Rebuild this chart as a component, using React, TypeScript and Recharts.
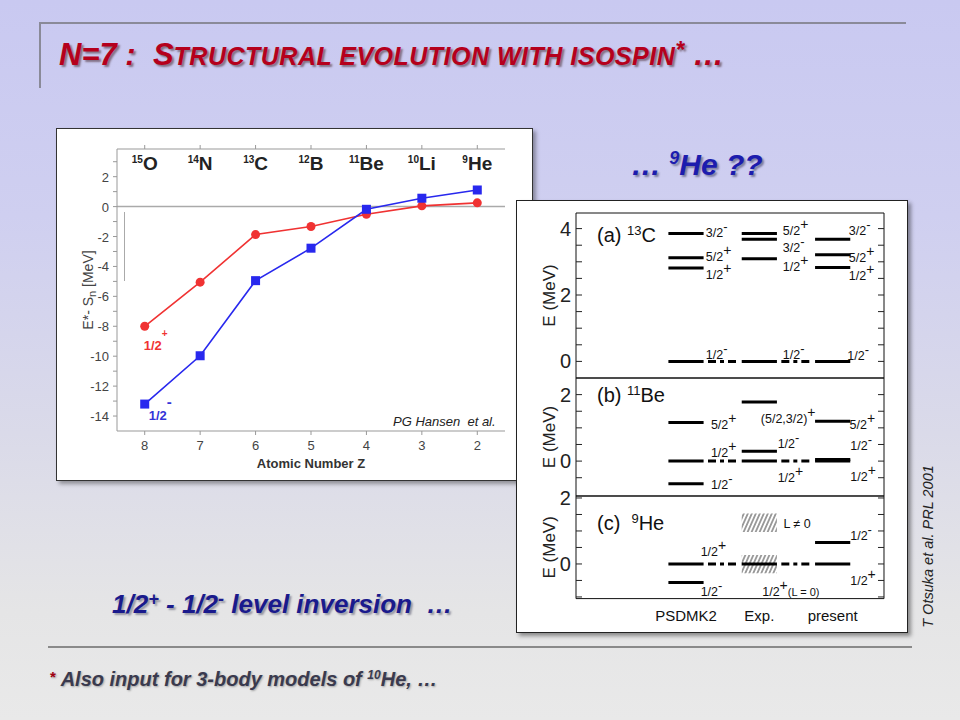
import React from 'react';
import {
  ComposedChart,
  Line,
  LineChart,
  ReferenceArea,
  ReferenceLine,
  Scatter,
  XAxis,
  YAxis,
} from 'recharts';

const FONT = '"Liberation Sans", Arial, Helvetica, sans-serif';
const RED = '#f03232';
const BLUE = '#2828ee';

// left plot: E* - Sn of the lowest 1/2+ and 1/2- states for N = 7
const atomicNumbers = [8, 7, 6, 5, 4, 3, 2];
const massNumbers = ['15', '14', '13', '12', '11', '10', '9'];
const elements = ['O', 'N', 'C', 'B', 'Be', 'Li', 'He'];
const halfPlusEnergy = [-8.0, -5.05, -1.87, -1.33, -0.51, 0.05, 0.25];
const halfMinusEnergy = [-13.2, -9.97, -4.95, -2.78, -0.18, 0.56, 1.11];
const energyTicks = [-14, -13, -12, -11, -10, -9, -8, -7, -6, -5, -4, -3, -2, -1, 0, 1, 2, 3];

// right plot: level schemes (Otsuka et al.)
const columns = ['PSDMK2', 'Exp.', 'present'];

const c13Levels = [
  { col: 0, e: 3.85 }, { col: 0, e: 3.12 }, { col: 0, e: 2.81 }, { col: 0, e: 0 },
  { col: 1, e: 3.85 }, { col: 1, e: 3.68 }, { col: 1, e: 3.09 }, { col: 1, e: 0 },
  { col: 2, e: 3.68 }, { col: 2, e: 3.21 }, { col: 2, e: 2.83 }, { col: 2, e: 0 },
];
const c13Labels = [
  { x: 1.77, y: 3.89, spin: '3/2', parity: '-' },
  { x: 1.77, y: 3.16, spin: '5/2', parity: '+' },
  { x: 1.77, y: 2.62, spin: '1/2', parity: '+' },
  { x: 1.77, y: 0.2, spin: '1/2', parity: '-' },
  { x: 2.82, y: 3.95, spin: '5/2', parity: '+' },
  { x: 2.82, y: 3.42, spin: '3/2', parity: '-' },
  { x: 2.82, y: 2.87, spin: '1/2', parity: '+' },
  { x: 2.82, y: 0.2, spin: '1/2', parity: '-' },
  { x: 3.72, y: 3.93, spin: '3/2', parity: '-' },
  { x: 3.72, y: 3.12, spin: '5/2', parity: '+' },
  { x: 3.72, y: 2.59, spin: '1/2', parity: '+' },
  { x: 3.7, y: 0.17, spin: '1/2', parity: '-' },
];

const be11Levels = [
  { col: 0, e: 1.16 }, { col: 0, e: 0 }, { col: 0, e: -0.68 },
  { col: 1, e: 1.78 }, { col: 1, e: 0.3 }, { col: 1, e: 0 },
  { col: 2, e: 1.2 }, { col: 2, e: 0.05 }, { col: 2, e: 0 },
];
const be11Labels = [
  { x: 1.84, y: 1.1, spin: '5/2', parity: '+' },
  { x: 1.84, y: 0.26, spin: '1/2', parity: '+' },
  { x: 1.84, y: -0.7, spin: '1/2', parity: '-' },
  { x: 2.52, y: 1.28, spin: '(5/2,3/2)', parity: '+' },
  { x: 2.75, y: 0.53, spin: '1/2', parity: '-' },
  { x: 2.75, y: -0.49, spin: '1/2', parity: '+' },
  { x: 3.73, y: 1.1, spin: '5/2', parity: '+' },
  { x: 3.74, y: 0.48, spin: '1/2', parity: '-' },
  { x: 3.74, y: -0.47, spin: '1/2', parity: '+' },
];

const he9Levels = [
  { col: 0, e: 0 }, { col: 0, e: -0.56 },
  { col: 1, e: 0 },
  { col: 2, e: 0.65 }, { col: 2, e: 0 },
];
const he9Bands = [
  { col: 1, from: -0.28, to: 0.27 },
  { col: 1, from: 0.97, to: 1.53 },
];
const he9Labels = [
  { x: 1.7, y: 0.37, spin: '1/2', parity: '+' },
  { x: 1.7, y: -0.83, spin: '1/2', parity: '-' },
  { x: 2.54, y: -0.83, spin: '1/2', parity: '+', note: '(L = 0)' },
  { x: 2.83, y: 1.23, spin: 'L \u2260 0' },
  { x: 3.74, y: 0.87, spin: '1/2', parity: '-' },
  { x: 3.74, y: -0.5, spin: '1/2', parity: '+' },
];

const X_MAX = 4.2;
const HALF = 0.24;
const GAP = 0.06;

const chartData = atomicNumbers.map((z, i) => ({
  z,
  plus: halfPlusEnergy[i],
  minus: halfMinusEnergy[i],
}));

const nuclideTick = (p: any) => {
  const i = atomicNumbers.indexOf(p.payload.value);
  return (
    <text x={p.x} y={p.y + 25} textAnchor="middle" fontWeight={700} fill="#222" fontFamily={FONT}>
      <tspan fontSize={10} dy={-7}>{massNumbers[i]}</tspan>
      <tspan fontSize={19} dy={7}>{elements[i]}</tspan>
    </text>
  );
};

const energyTick = (p: any) => {
  const v = p.payload.value;
  if (v % 2 !== 0) return <g />;
  return (
    <text x={p.x} y={p.y} dy={5} textAnchor="end" fontSize={13} fill="#444" fontFamily={FONT}>
      {v}
    </text>
  );
};

const energyAxisLabel = (p: any) => {
  const vb = p.viewBox || { x: 0, y: 21, width: 61, height: 282 };
  const cx = vb.x + 32;
  const cy = vb.y + vb.height / 2;
  return (
    <text transform={`rotate(-90 ${cx} ${cy})`} x={cx} y={cy} dy={5} textAnchor="middle" fontSize={14} fill="#444" fontFamily={FONT}>
      E*- S<tspan fontSize={11} dy={3}>n</tspan>
      <tspan dy={-3}>{'  [MeV]'}</tspan>
    </text>
  );
};

const seriesLabel = (text: string, sign: string, color: string, dx: number, dy: number) => (p: any) => {
  if (p.index !== 0) return <g />;
  return (
    <text x={p.x + dx} y={p.y + dy} fill={color} fontSize={13} fontWeight={700} fontFamily={FONT}>
      {text}
      <tspan dy={-13} fontSize={sign === '+' ? 10 : 15}>{sign}</tspan>
    </text>
  );
};

const squareDot = (p: any) => (
  <rect key={`sq-${p.index}`} x={p.cx - 4.5} y={p.cy - 4.5} width={9} height={9} fill={BLUE} />
);

function SeparationChart() {
  return (
    <LineChart width={477} height={353} data={chartData} margin={{ top: 0, right: 28, bottom: 0, left: 0 }}>
      <XAxis
        type="number"
        dataKey="z"
        domain={[1.5, 8.5]}
        reversed
        ticks={atomicNumbers}
        interval={0}
        height={50}
        tickSize={4}
        tickMargin={6}
        stroke="#999"
        tick={{ fill: '#444', fontSize: 13, fontFamily: FONT }}
        allowDataOverflow
        label={{ value: 'Atomic Number Z', position: 'insideBottom', offset: 13, fill: '#333', fontSize: 13, fontWeight: 700, fontFamily: FONT }}
      />
      <XAxis
        xAxisId="top"
        orientation="top"
        type="number"
        dataKey="z"
        domain={[1.5, 8.5]}
        reversed
        ticks={atomicNumbers}
        interval={0}
        height={21}
        tickSize={4}
        tickMargin={0}
        stroke="#999"
        tick={nuclideTick}
        allowDataOverflow
      />
      <YAxis
        type="number"
        domain={[-15, 3.85]}
        ticks={energyTicks}
        interval={0}
        width={61}
        tickSize={4}
        tickMargin={4}
        stroke="#999"
        tick={energyTick}
        allowDataOverflow
        label={energyAxisLabel}
      />
      <YAxis yAxisId="right" orientation="right" type="number" domain={[-15, 3.85]} width={0} tick={false} tickLine={false} stroke="#999" allowDataOverflow />
      <ReferenceLine y={0} stroke="#aaa" strokeWidth={1.5} />
      <Line
        dataKey="plus"
        stroke={RED}
        strokeWidth={1.6}
        dot={{ r: 4.5, fill: RED, stroke: RED, strokeWidth: 0 }}
        label={seriesLabel('1/2', '+', RED, -1, 24)}
        isAnimationActive={false}
      />
      <Line
        dataKey="minus"
        stroke={BLUE}
        strokeWidth={1.6}
        dot={squareDot}
        label={seriesLabel('1/2', '-', '#3434d8', 4, 16)}
        isAnimationActive={false}
      />
    </LineChart>
  );
}

const panelLeftTick = (p: any) => {
  const v = p.payload.value;
  return (
    <g>
      <line x1={p.x} x2={p.x + 6} y1={p.y} y2={p.y} stroke="#222" strokeWidth={1} />
      {v >= 0 && v % 2 === 0 ? (
        <text x={p.x - 5} y={p.y} dy={7} textAnchor="end" fontSize={20} fill="#222" fontFamily={FONT}>
          {v}
        </text>
      ) : null}
    </g>
  );
};

const panelRightTick = (p: any) => (
  <line x1={p.x - 6} x2={p.x} y1={p.y} y2={p.y} stroke="#222" strokeWidth={1} />
);

const panelAxisLabel = (p: any) => {
  const vb = p.viewBox || { x: 0, y: 12, width: 60, height: 100 };
  const cx = vb.x + 33;
  const cy = vb.y + vb.height / 2;
  return (
    <text transform={`rotate(-90 ${cx} ${cy})`} x={cx} y={cy} dy={6} textAnchor="middle" fontSize={17} fill="#222" fontFamily={FONT}>
      E (MeV)
    </text>
  );
};

const levelLabel = (p: any) => {
  const d = p.payload;
  return (
    <text x={p.cx} y={p.cy} dy={4.5} fontSize={12.5} fill="#111" fontFamily={FONT}>
      {d.spin}
      {d.parity ? (
        <tspan dy={-6} fontSize={d.parity === '+' ? 14 : 13}>{d.parity}</tspan>
      ) : null}
      {d.note ? <tspan dy={6} fontSize={11}>{d.note}</tspan> : null}
    </text>
  );
};

type Level = { col: number; e: number };
type Band = { col: number; from: number; to: number };

function LevelPanel({
  id,
  top,
  height,
  domain,
  ticks,
  levels,
  labels,
  bands = [],
  showColumns = false,
}: {
  id: string;
  top: number;
  height: number;
  domain: [number, number];
  ticks: number[];
  levels: Level[];
  labels: any[];
  bands?: Band[];
  showColumns?: boolean;
}) {
  const hatchId = `hatch-${id}`;
  return (
    <div style={{ position: 'absolute', left: 516, top }}>
      <ComposedChart width={392} height={height} margin={{ top: 12, right: 0, bottom: showColumns ? 0 : 4, left: 0 }}>
        <defs>
          <pattern id={hatchId} width={4} height={12} patternUnits="userSpaceOnUse" patternTransform="skewX(-24)">
            <line x1={1} y1={0} x2={1} y2={12} stroke="#333" strokeWidth={1} />
          </pattern>
        </defs>
        <XAxis
          type="number"
          dataKey="x"
          domain={[0, X_MAX]}
          ticks={[1.5, 2.5, 3.5]}
          interval={0}
          hide={!showColumns}
          height={32}
          tickSize={0}
          tickMargin={12}
          axisLine={false}
          tickLine={false}
          tick={{ fill: '#111', fontSize: 15, fontFamily: FONT }}
          tickFormatter={(v: number) => columns[Math.round(v - 1.5)]}
          allowDataOverflow
        />
        <YAxis
          type="number"
          dataKey="y"
          domain={domain}
          ticks={ticks}
          interval={0}
          width={60}
          tickSize={0}
          tickMargin={0}
          axisLine={false}
          tickLine={false}
          tick={panelLeftTick}
          label={panelAxisLabel}
          allowDataOverflow
        />
        <YAxis
          yAxisId="r"
          orientation="right"
          type="number"
          domain={domain}
          ticks={ticks}
          interval={0}
          width={24}
          tickSize={0}
          tickMargin={0}
          axisLine={false}
          tickLine={false}
          tick={panelRightTick}
          allowDataOverflow
        />
        <ReferenceArea x1={0} x2={X_MAX} y1={domain[0]} y2={domain[1]} fill="none" stroke="#111" strokeWidth={1} fillOpacity={0} />
        {bands.map((b, i) => (
          <ReferenceArea
            key={`band-${i}`}
            x1={b.col + 1.5 - HALF}
            x2={b.col + 1.5 + HALF}
            y1={b.from}
            y2={b.to}
            fill={`url(#${hatchId})`}
            fillOpacity={1}
            stroke="none"
          />
        ))}
        {levels.map((l, i) => (
          <ReferenceLine
            key={`lv-${i}`}
            segment={[
              { x: l.col + 1.5 - HALF, y: l.e },
              { x: l.col + 1.5 + HALF, y: l.e },
            ]}
            stroke="#000"
            strokeWidth={3}
          />
        ))}
        {[0, 1].map((c) => (
          <ReferenceLine
            key={`gs-${c}`}
            segment={[
              { x: c + 1.5 + HALF + GAP, y: 0 },
              { x: c + 2.5 - HALF - GAP, y: 0 },
            ]}
            stroke="#000"
            strokeWidth={3}
            strokeDasharray="8 4 4 4"
          />
        ))}
        <Scatter data={labels} dataKey="y" shape={levelLabel} isAnimationActive={false} />
      </ComposedChart>
    </div>
  );
}

const sup = (em: number, top: string): React.CSSProperties => ({
  fontSize: `${em}em`,
  position: 'relative',
  top,
});

const abs = (left: number, top: number, extra: React.CSSProperties = {}): React.CSSProperties => ({
  position: 'absolute',
  left,
  top,
  lineHeight: 1,
  whiteSpace: 'nowrap',
  fontFamily: FONT,
  ...extra,
});

export default function App() {
  return (
    <div
      style={{
        position: 'absolute',
        left: 0,
        top: 0,
        width: 960,
        height: 720,
        overflow: 'hidden',
        fontFamily: FONT,
        background: 'linear-gradient(180deg, #c9c9f1 0%, #cfcff0 30%, #dadae9 60%, #e5e5e6 85%, #e9e9e9 100%)',
      }}
    >
      <div style={{ position: 'absolute', left: 39, top: 22, width: 867, height: 2, background: '#8a8a98' }} />
      <div style={{ position: 'absolute', left: 39, top: 22, width: 2, height: 66, background: '#8a8a98' }} />
      <div style={{ position: 'absolute', left: 48, top: 646, width: 864, height: 2, background: '#8a8a8a' }} />

      <div
        style={abs(59, 39, {
          fontSize: 31,
          fontWeight: 700,
          fontStyle: 'italic',
          color: '#b5001c',
          textShadow: '2px 2px 2px rgba(40,0,0,0.45)',
        })}
      >
        N=7 :&nbsp; S<span style={{ fontSize: 25, letterSpacing: 0.5 }}>TRUCTURAL EVOLUTION WITH ISOSPIN</span>
        <span style={sup(0.75, '-0.3em')}>*</span> …
      </div>

      <div
        style={{
          position: 'absolute',
          left: 56,
          top: 128,
          width: 477,
          height: 353,
          boxSizing: 'border-box',
          background: '#fff',
          border: '1px solid #333',
          boxShadow: '3px 3px 4px rgba(0,0,0,0.35)',
        }}
      />
      <div style={{ position: 'absolute', left: 124, top: 212, width: 1, height: 69, background: '#aaa' }} />
      <div style={{ position: 'absolute', left: 56, top: 128 }}>
        <SeparationChart />
      </div>
      <div style={abs(393, 415, { fontSize: 13, fontStyle: 'italic', color: '#222' })}>PG Hansen&nbsp; et al.</div>

      <div
        style={abs(631, 150, {
          fontSize: 30,
          fontWeight: 700,
          fontStyle: 'italic',
          color: '#1c1cae',
          textShadow: '2px 2px 2px rgba(0,0,40,0.4)',
        })}
      >
        … <span style={sup(0.6, '-0.6em')}>9</span>He ??
      </div>

      <div
        style={{
          position: 'absolute',
          left: 516,
          top: 200,
          width: 392,
          height: 433,
          boxSizing: 'border-box',
          background: '#fff',
          border: '1px solid #222',
          boxShadow: '3px 3px 4px rgba(0,0,0,0.4)',
        }}
      />
      <LevelPanel id="c13" top={200.7} height={181} domain={[-0.5, 4.47]} ticks={[0, 0.5, 1, 1.5, 2, 2.5, 3, 3.5, 4]} levels={c13Levels} labels={c13Labels} />
      <LevelPanel id="be11" top={365.7} height={134} domain={[-1.05, 2.5]} ticks={[-0.5, 0, 0.5, 1, 1.5, 2]} levels={be11Levels} labels={be11Labels} />
      <LevelPanel
        id="he9"
        top={483.7}
        height={146.6}
        domain={[-1.05, 2.06]}
        ticks={[-1, -0.5, 0, 0.5, 1, 1.5, 2]}
        levels={he9Levels}
        labels={he9Labels}
        bands={he9Bands}
        showColumns
      />
      <div style={abs(597, 225, { fontSize: 20, color: '#111' })}>
        (a) <span style={sup(0.65, '-0.55em')}>13</span>C
      </div>
      <div style={abs(597, 385, { fontSize: 20, color: '#111' })}>
        (b) <span style={sup(0.65, '-0.55em')}>11</span>Be
      </div>
      <div style={abs(597, 513, { fontSize: 20, color: '#111' })}>
        (c)&nbsp; <span style={sup(0.65, '-0.55em')}>9</span>He
      </div>

      <div
        style={abs(843, 539, {
          width: 170,
          height: 15,
          textAlign: 'center',
          fontSize: 14.5,
          fontStyle: 'italic',
          color: '#222',
          transform: 'rotate(-90deg)',
          transformOrigin: '50% 50%',
        })}
      >
        T Otsuka et al. PRL 2001
      </div>

      <div
        style={abs(112, 591, {
          fontSize: 26,
          fontWeight: 700,
          fontStyle: 'italic',
          color: '#1a1a8c',
          textShadow: '2px 2px 2px rgba(0,0,40,0.35)',
        })}
      >
        1/2<span style={sup(0.7, '-0.45em')}>+</span> - 1/2<span style={sup(0.7, '-0.45em')}>-</span> level inversion&nbsp; …
      </div>

      <div
        style={abs(50, 669, {
          fontSize: 20,
          fontWeight: 700,
          fontStyle: 'italic',
          color: '#3a3a4e',
          textShadow: '1px 1px 2px rgba(0,0,0,0.3)',
        })}
      >
        <span style={{ ...sup(0.75, '-0.3em'), color: '#a00010', fontStyle: 'normal' }}>*</span> Also input for 3-body models of{' '}
        <span style={sup(0.6, '-0.55em')}>10</span>He, …
      </div>
    </div>
  );
}
